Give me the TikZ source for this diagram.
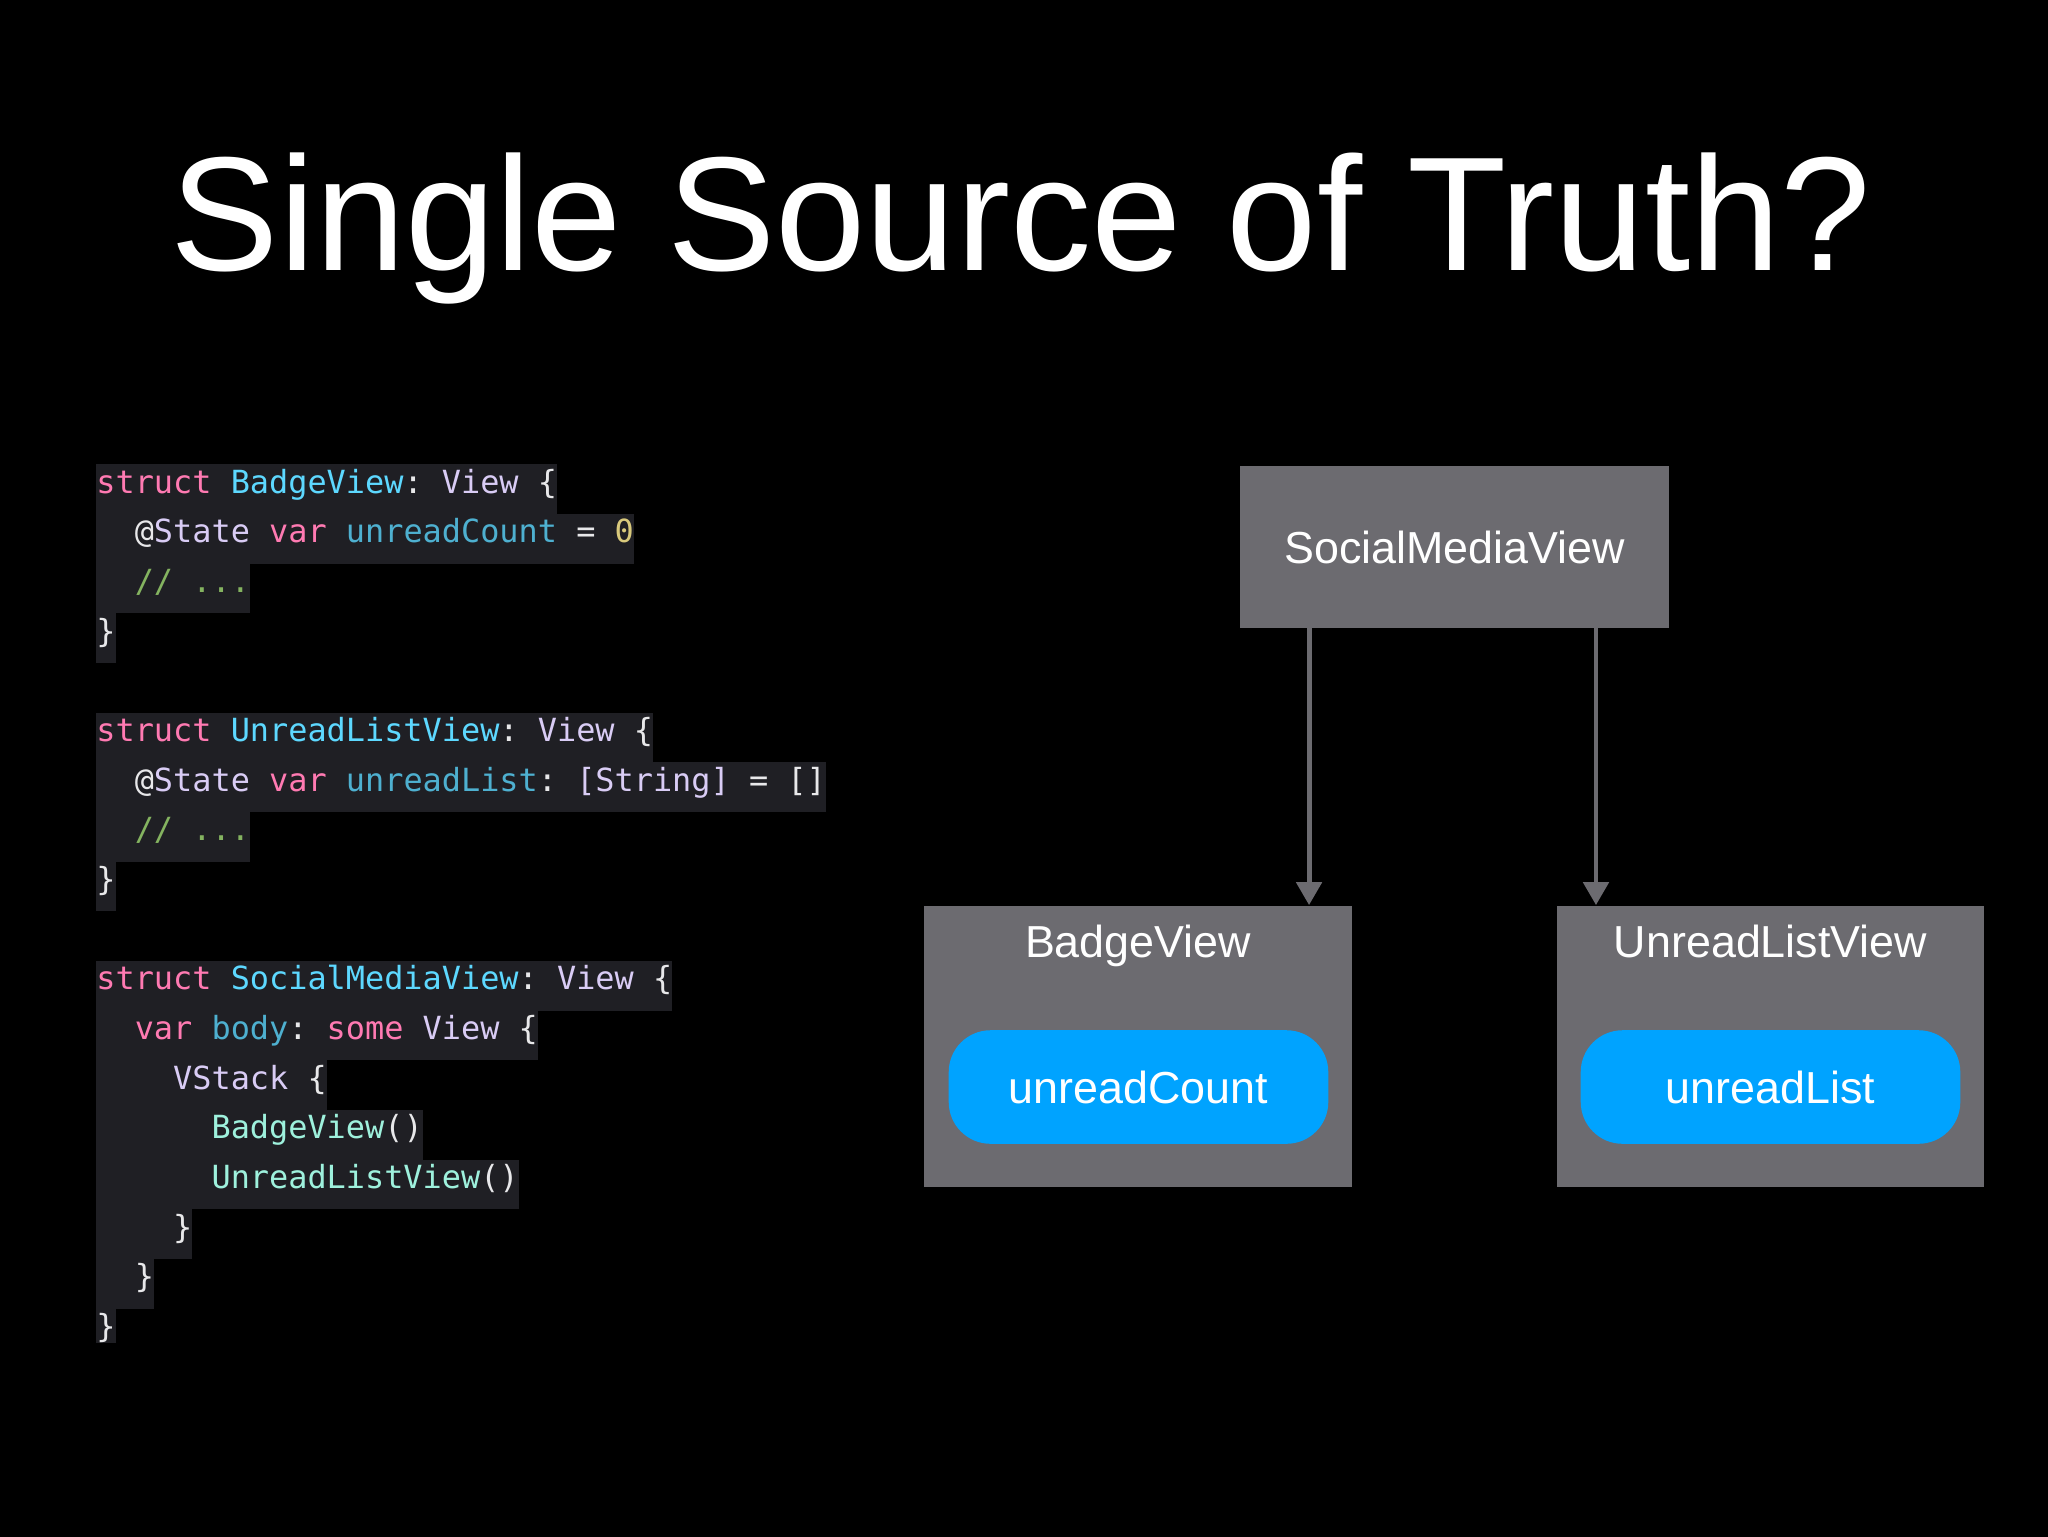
\documentclass[tikz,border=0pt]{standalone}
\usepackage{fontspec}
\setmainfont{Liberation Sans}
\setmonofont{DejaVu Sans Mono}
\usepackage{xcolor}
\usepackage{tikz}
\usetikzlibrary{arrows.meta}

\definecolor{codebg}{HTML}{1F1F24}
\definecolor{kwpink}{HTML}{FF7AB2}
\definecolor{decl}{HTML}{5DD8FF}
\definecolor{typ}{HTML}{D9CCF5}
\definecolor{prop}{HTML}{4EB0D0}
\definecolor{num}{HTML}{D9C97C}
\definecolor{cmt}{HTML}{84B360}
\definecolor{call}{HTML}{9EF1DD}
\definecolor{codeplain}{HTML}{E8E8EA}
\definecolor{boxgrey}{HTML}{6C6B70}
\definecolor{pillblue}{HTML}{00A3FF}

\begin{document}
\begin{tikzpicture}[
    x=0.5bp, y=-0.5bp,
    >={Triangle[length=11.5pt,width=12.5pt]},
    code/.style={anchor=north west, inner sep=0pt, fill=codebg, text=codeplain,
        font=\ttfamily\fontsize{16}{20}\selectfont,
        text height=14.5pt, text depth=10.45pt},
    view/.style={fill=boxgrey, text=white, inner sep=0pt,
        font=\fontsize{22.5}{27}\selectfont},
    viewtitle/.style={text=white, anchor=base, inner sep=0pt,
        font=\fontsize{22.5}{27}\selectfont},
    pill/.style={fill=pillblue, text=white, rounded corners=21pt,
        minimum width=190.5pt, minimum height=57pt,
        font=\fontsize{22.5}{27}\selectfont},
    link/.style={->, draw=boxgrey, line width=2.5pt}
]

\useasboundingbox (0,0) rectangle (2048,1536);
\fill[black, overlay] (-10,-10) rectangle (2058,1546);

\node[text=white, anchor=base, inner sep=0pt, font=\fontsize{81.5}{98}\selectfont] (title) at (1021,270) {Single Source of Truth?};

% code on the left
\node[code] (c0)  at (96,464)     {\textcolor{kwpink}{struct} \textcolor{decl}{BadgeView}: \textcolor{typ}{View} \{};
\node[code] (c1)  at (96,513.65)  {\ \ @\textcolor{typ}{State} \textcolor{kwpink}{var} \textcolor{prop}{unreadCount} = \textcolor{num}{0}};
\node[code] (c2)  at (96,563.3)   {\ \ \textcolor{cmt}{// ...}};
\node[code] (c3)  at (96,612.95)  {\}};

\node[code] (c5)  at (96,712.25)  {\textcolor{kwpink}{struct} \textcolor{decl}{UnreadListView}: \textcolor{typ}{View} \{};
\node[code] (c6)  at (96,761.9)   {\ \ @\textcolor{typ}{State} \textcolor{kwpink}{var} \textcolor{prop}{unreadList}: \textcolor{typ}{[String]} = []};
\node[code] (c7)  at (96,811.55)  {\ \ \textcolor{cmt}{// ...}};
\node[code] (c8)  at (96,861.2)   {\}};

\node[code] (c10) at (96,960.5)   {\textcolor{kwpink}{struct} \textcolor{decl}{SocialMediaView}: \textcolor{typ}{View} \{};
\node[code] (c11) at (96,1010.15) {\ \ \textcolor{kwpink}{var} \textcolor{prop}{body}: \textcolor{kwpink}{some} \textcolor{typ}{View} \{};
\node[code] (c12) at (96,1059.8)  {\ \ \ \ \textcolor{typ}{VStack} \{};
\node[code] (c13) at (96,1109.45) {\ \ \ \ \ \ \textcolor{call}{BadgeView}()};
\node[code] (c14) at (96,1159.1)  {\ \ \ \ \ \ \textcolor{call}{UnreadListView}()};
\node[code] (c15) at (96,1208.75) {\ \ \ \ \}};
\node[code] (c16) at (96,1258.4)  {\ \ \}};
\node[code, text depth=3pt] (c17) at (96,1308.05) {\}};

% views on the right
\node[view, minimum width=215pt, minimum height=81pt] (smv) at (1454.5,547) {SocialMediaView};

\node[view, minimum width=214.5pt, minimum height=141.5pt] (bv)  at (1138,1046.5) {};
\node[view, minimum width=214.5pt, minimum height=141.5pt] (ulv) at (1770.5,1046.5) {};

\node[viewtitle] (bvt)  at ([yshift=-26.5pt]bv.north)  {BadgeView};
\node[viewtitle] (ulvt) at ([yshift=-26.5pt]ulv.north) {UnreadListView};

\node[pill] (cnt)  at (1138.5,1087) {unreadCount};
\node[pill] (list) at (1770.5,1087) {unreadList};

\draw[link] ([xshift=-73pt]smv.south) -- ([xshift=-73pt]smv.south |- bv.north);
\draw[link] ([xshift=71pt]smv.south) -- ([xshift=71pt]smv.south |- ulv.north);

\end{tikzpicture}
\end{document}
